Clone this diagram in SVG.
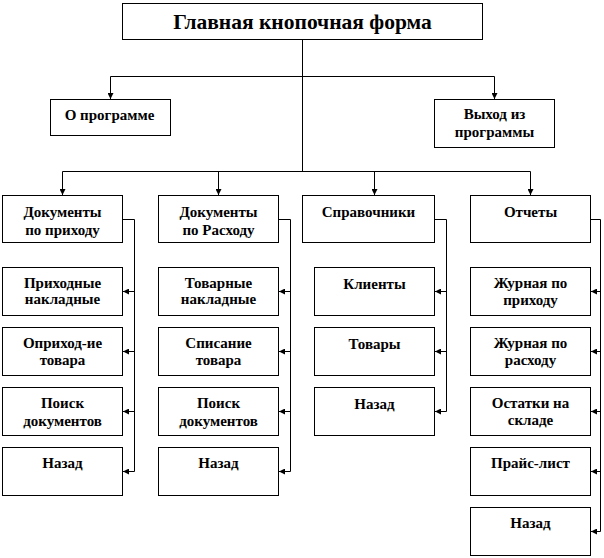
<svg xmlns="http://www.w3.org/2000/svg" width="604" height="558" viewBox="0 0 604 558">
<style>
.box{fill:#fff;stroke:#000;stroke-width:1}
.c path{fill:none;stroke:#000;stroke-width:1}
text{font-family:'Liberation Serif','Times New Roman',serif;font-weight:bold;font-size:15px;text-anchor:middle;fill:#000}
.t{font-size:21.5px}
</style>
<defs>
<marker id="a" markerUnits="userSpaceOnUse" markerWidth="7" markerHeight="6" refX="6" refY="3" orient="auto">
<path d="M0,0 L6,3 L0,6 z" fill="#000"/>
</marker>
</defs>
<rect width="604" height="558" fill="#fff"/>
<g class="c" id="connectors">
<path d="M302.5,39.5 V171.5"/>
<path d="M302.5,76.5 H110.5 V99" marker-end="url(#a)"/>
<path d="M302.5,76.5 H494.5 V99" marker-end="url(#a)"/>
<path d="M62.5,171.5 H530.5"/>
<path d="M62.5,171.5 V195" marker-end="url(#a)"/>
<path d="M218.5,171.5 V195" marker-end="url(#a)"/>
<path d="M374.5,171.5 V195" marker-end="url(#a)"/>
<path d="M530.5,171.5 V195" marker-end="url(#a)"/>
<path d="M122.5,219.5 H134.5 V471.5"/>
<path d="M134.5,291.5 H123" marker-end="url(#a)"/>
<path d="M134.5,351.5 H123" marker-end="url(#a)"/>
<path d="M134.5,411.5 H123" marker-end="url(#a)"/>
<path d="M134.5,471.5 H123" marker-end="url(#a)"/>
<path d="M278.5,219.5 H290.5 V471.5"/>
<path d="M290.5,291.5 H279" marker-end="url(#a)"/>
<path d="M290.5,351.5 H279" marker-end="url(#a)"/>
<path d="M290.5,411.5 H279" marker-end="url(#a)"/>
<path d="M290.5,471.5 H279" marker-end="url(#a)"/>
<path d="M434.5,219.5 H446.5 V411.5"/>
<path d="M446.5,291.5 H435" marker-end="url(#a)"/>
<path d="M446.5,351.5 H435" marker-end="url(#a)"/>
<path d="M446.5,411.5 H435" marker-end="url(#a)"/>
<path d="M590.5,219.5 H600.5 V531.5"/>
<path d="M600.5,291.5 H591" marker-end="url(#a)"/>
<path d="M600.5,351.5 H591" marker-end="url(#a)"/>
<path d="M600.5,411.5 H591" marker-end="url(#a)"/>
<path d="M600.5,471.5 H591" marker-end="url(#a)"/>
<path d="M600.5,531.5 H591" marker-end="url(#a)"/>
</g>
<g id="main"><rect class="box" x="122.5" y="3.5" width="360" height="36"/><text class="t" x="302.5" y="28.5">Главная кнопочная форма</text></g>
<g id="about"><rect class="box" x="50.5" y="99.5" width="120" height="36"/><text x="109.5" y="120">О программе</text></g>
<g id="exit"><rect class="box" x="434.5" y="99.5" width="120" height="48"/><text x="494.5" y="119">Выход из</text><text x="494.5" y="137">программы</text></g>

<g id="doc-in"><rect class="box" x="2.5" y="195.5" width="120" height="47"/><text x="62.5" y="217">Документы</text><text x="62.5" y="235">по приходу</text></g>
<g id="in-invoices"><rect class="box" x="2.5" y="267.5" width="120" height="48"/><text x="62.5" y="288">Приходные</text><text x="62.5" y="304">накладные</text></g>
<g id="in-goods"><rect class="box" x="2.5" y="327.5" width="120" height="48"/><text x="62.5" y="348">Оприход-ие</text><text x="62.5" y="365">товара</text></g>
<g id="in-search"><rect class="box" x="2.5" y="387.5" width="120" height="48"/><text x="62.5" y="408">Поиск</text><text x="62.5" y="426">документов</text></g>
<g id="in-back"><rect class="box" x="2.5" y="447.5" width="120" height="48"/><text x="62.5" y="468">Назад</text></g>

<g id="doc-out"><rect class="box" x="158.5" y="195.5" width="120" height="47"/><text x="218.5" y="217">Документы</text><text x="218.5" y="235">по Расходу</text></g>
<g id="out-invoices"><rect class="box" x="158.5" y="267.5" width="120" height="48"/><text x="218.5" y="288">Товарные</text><text x="218.5" y="304">накладные</text></g>
<g id="out-writeoff"><rect class="box" x="158.5" y="327.5" width="120" height="48"/><text x="218.5" y="348">Списание</text><text x="218.5" y="365">товара</text></g>
<g id="out-search"><rect class="box" x="158.5" y="387.5" width="120" height="48"/><text x="218.5" y="408">Поиск</text><text x="218.5" y="426">документов</text></g>
<g id="out-back"><rect class="box" x="158.5" y="447.5" width="120" height="48"/><text x="218.5" y="468">Назад</text></g>

<g id="refs"><rect class="box" x="302.5" y="195.5" width="132" height="47"/><text x="368.5" y="217">Справочники</text></g>
<g id="clients"><rect class="box" x="314.5" y="267.5" width="120" height="48"/><text x="374.5" y="289">Клиенты</text></g>
<g id="goods"><rect class="box" x="314.5" y="327.5" width="120" height="48"/><text x="374.5" y="349">Товары</text></g>
<g id="refs-back"><rect class="box" x="314.5" y="387.5" width="120" height="48"/><text x="374.5" y="409">Назад</text></g>

<g id="reports"><rect class="box" x="470.5" y="195.5" width="120" height="47"/><text x="530.5" y="217">Отчеты</text></g>
<g id="rep-in"><rect class="box" x="470.5" y="267.5" width="120" height="48"/><text x="530.5" y="288">Журная по</text><text x="530.5" y="305">приходу</text></g>
<g id="rep-out"><rect class="box" x="470.5" y="327.5" width="120" height="48"/><text x="530.5" y="348">Журная по</text><text x="530.5" y="365">расходу</text></g>
<g id="stock"><rect class="box" x="470.5" y="387.5" width="120" height="48"/><text x="530.5" y="408">Остатки на</text><text x="530.5" y="425">складе</text></g>
<g id="prices"><rect class="box" x="470.5" y="447.5" width="120" height="48"/><text x="530.5" y="468">Прайс-лист</text></g>
<g id="rep-back"><rect class="box" x="470.5" y="507.5" width="120" height="48"/><text x="530.5" y="528">Назад</text></g>
</svg>
